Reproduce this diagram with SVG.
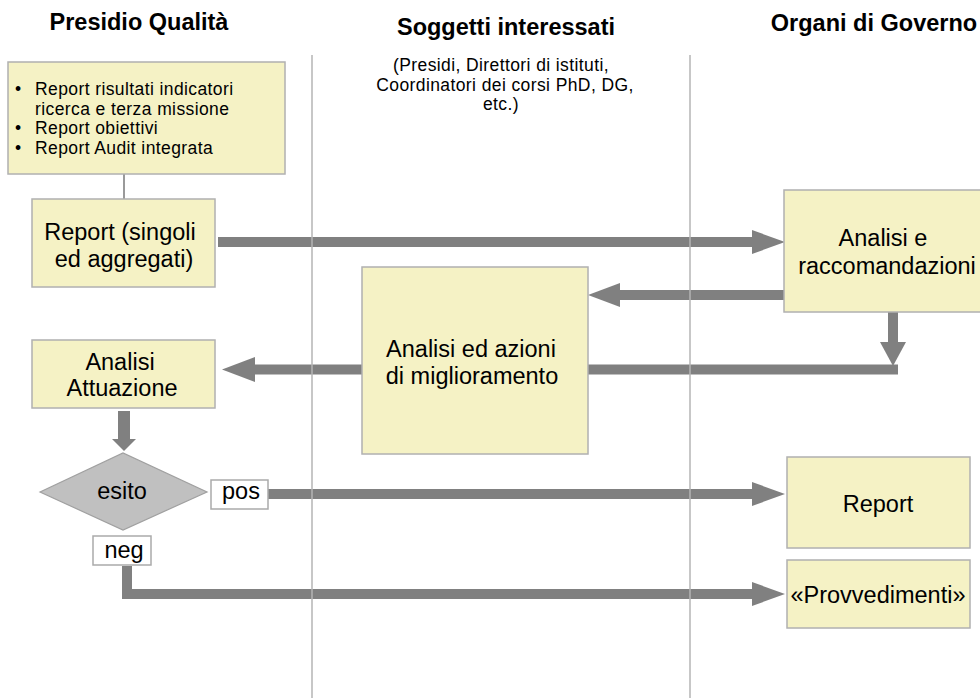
<svg xmlns="http://www.w3.org/2000/svg" width="980" height="698" viewBox="0 0 980 698">
  <defs>
    <style>
      text { font-family: "Liberation Sans", Arial, sans-serif; fill: #000; }
      .title { font-size: 23.5px; font-weight: bold; text-anchor: middle; }
      .small { font-size: 17.5px; letter-spacing: 0.4px; }
      .lbl { font-size: 23.5px; text-anchor: middle; }
      .box { fill: #f5f2c5; stroke: #b0b0b0; stroke-width: 1.5; }
      .tag { fill: #ffffff; stroke: #aaaaaa; stroke-width: 1.5; }
      .dec { fill: #c0c0c0; stroke: #a0a0a0; stroke-width: 1.2; }
      .bar { stroke: #808080; stroke-width: 10; fill: none; }
      .head { fill: #808080; }
      .lane { stroke: #b4b4b4; stroke-width: 1.5; }
    </style>
  </defs>

  <rect x="0" y="0" width="980" height="698" fill="#ffffff"/>

  <!-- lane headers -->
  <g id="lane-headers">
    <text class="title" x="139" y="30">Presidio Qualità</text>
    <text class="title" x="506" y="35">Soggetti interessati</text>
    <text class="title" x="874" y="31">Organi di Governo</text>
    <text class="small" x="501" y="71" text-anchor="middle">(Presidi, Direttori di istituti,</text>
    <text class="small" x="505" y="90.5" text-anchor="middle">Coordinatori dei corsi PhD, DG,</text>
    <text class="small" x="501" y="110" text-anchor="middle">etc.)</text>
  </g>

  <!-- connectors -->
  <g id="connectors">
    <line x1="124" y1="174" x2="124" y2="199" stroke="#9a9a9a" stroke-width="2"/>
    <!-- Report (singoli) -> Analisi e raccomandazioni -->
    <line class="bar" x1="218" y1="242" x2="754" y2="242"/>
    <polygon class="head" points="752,230 785,242 752,254"/>
    <!-- Analisi e raccomandazioni -> Analisi ed azioni -->
    <line class="bar" x1="784" y1="295" x2="618" y2="295"/>
    <polygon class="head" points="620,283 588,295 620,307"/>
    <!-- Analisi e raccomandazioni down to the return line -->
    <line class="bar" x1="893" y1="312" x2="893" y2="344"/>
    <polygon class="head" points="880,342 906,342 893,366"/>
    <line class="bar" x1="588" y1="369.5" x2="898" y2="369.5"/>
    <!-- Analisi ed azioni -> Analisi Attuazione -->
    <line class="bar" x1="362" y1="369.5" x2="253" y2="369.5"/>
    <polygon class="head" points="255,357 222,369.5 255,382"/>
    <!-- Analisi Attuazione -> esito -->
    <line stroke="#808080" stroke-width="12" x1="124" y1="411" x2="124" y2="441"/>
    <polygon class="head" points="112,439 136,439 124,451"/>
    <!-- pos -> Report -->
    <line class="bar" x1="268" y1="494" x2="754" y2="494"/>
    <polygon class="head" points="752,482 785,494 752,506"/>
    <!-- neg -> Provvedimenti -->
    <polyline class="bar" points="127,566 127,594 754,594"/>
    <polygon class="head" points="752,582 785,594 752,606"/>
  </g>

  <!-- lane dividers -->
  <g id="lanes">
    <line class="lane" x1="312" y1="55" x2="312" y2="698"/>
    <line class="lane" x1="690" y1="55" x2="690" y2="698"/>
  </g>

  <g id="report-list">
    <rect class="box" x="8" y="62" width="277" height="112"/>
    <text class="small" x="15" y="95">•</text>
    <text class="small" x="35" y="95">Report risultati indicatori</text>
    <text class="small" x="35" y="114.5">ricerca e terza missione</text>
    <text class="small" x="15" y="134">•</text>
    <text class="small" x="35" y="134">Report obiettivi</text>
    <text class="small" x="15" y="153.5">•</text>
    <text class="small" x="35" y="153.5">Report Audit integrata</text>
  </g>

  <g id="report-singoli">
    <rect class="box" x="32" y="199" width="183" height="88"/>
    <text class="lbl" x="120" y="240">Report (singoli</text>
    <text class="lbl" x="124" y="267">ed aggregati)</text>
  </g>

  <g id="analisi-attuazione">
    <rect class="box" x="32" y="340" width="183" height="68"/>
    <text class="lbl" x="120" y="370">Analisi</text>
    <text class="lbl" x="122" y="396">Attuazione</text>
  </g>

  <g id="esito">
    <polygon class="dec" points="40,492 123,453 207,492 123,530"/>
    <text class="lbl" x="122" y="499">esito</text>
  </g>

  <g id="pos">
    <rect class="tag" x="211" y="480" width="57" height="29"/>
    <text class="lbl" x="241" y="499">pos</text>
  </g>

  <g id="neg">
    <rect class="tag" x="93" y="536" width="58" height="29"/>
    <text class="lbl" x="124" y="558">neg</text>
  </g>

  <g id="analisi-azioni">
    <rect class="box" x="362" y="267" width="226" height="187"/>
    <text class="lbl" x="471" y="357">Analisi ed azioni</text>
    <text class="lbl" x="472" y="384">di miglioramento</text>
  </g>

  <g id="analisi-raccomandazioni">
    <rect class="box" x="784" y="190" width="206" height="122"/>
    <text class="lbl" x="883" y="246">Analisi e</text>
    <text class="lbl" x="887" y="274">raccomandazioni</text>
  </g>

  <g id="report-finale">
    <rect class="box" x="787" y="457" width="183" height="91"/>
    <text class="lbl" x="878" y="512">Report</text>
  </g>

  <g id="provvedimenti">
    <rect class="box" x="787" y="560" width="183" height="68"/>
    <text class="lbl" x="878" y="603">«Provvedimenti»</text>
  </g>
</svg>
